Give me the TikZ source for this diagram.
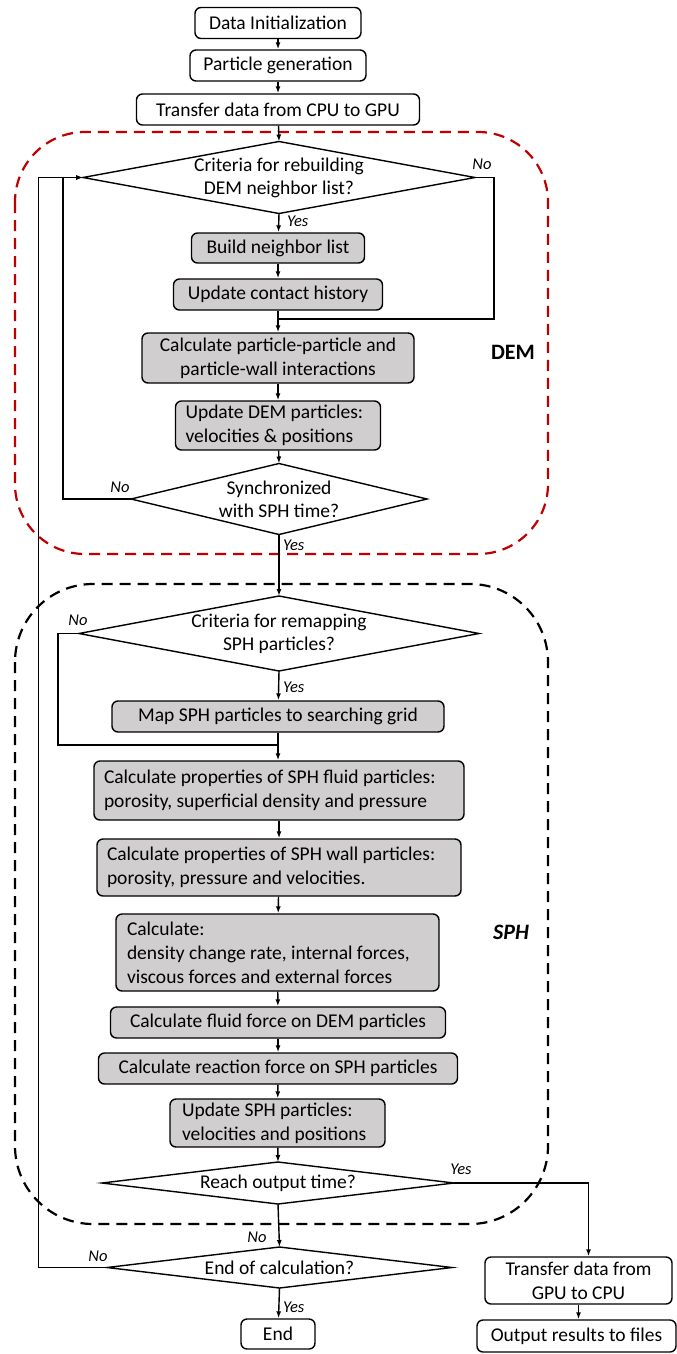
\documentclass[tikz,border=0pt]{standalone}
\usepackage{fontspec}
\setmainfont{Carlito}
\usetikzlibrary{arrows.meta,calc}
\definecolor{boxgray}{HTML}{D0CECE}
\definecolor{demred}{HTML}{C00000}
\newcommand\mkdia[6]{%
  \node[dtxt] (#1) at (#2,#3) {#6};
  \coordinate (#1-n) at ($(#1)+(0,-#5)$);
  \coordinate (#1-s) at ($(#1)+(0,#5)$);
  \coordinate (#1-w) at ($(#1)+(-#4,0)$);
  \coordinate (#1-e) at ($(#1)+(#4,0)$);
  \draw[ln] (#1-n) -- (#1-e) -- (#1-s) -- (#1-w) -- cycle;
}
\begin{document}
\begin{tikzpicture}[x=1pt,y=-1pt,
  ln/.style={line width=1.4pt, line join=miter},
  arr/.style={ln, -{Latex[length=7pt,width=5pt]}},
  box/.style={draw, line width=1.4pt, rounded corners=6pt, inner sep=0pt,
     font=\fontsize{19.5}{24}\selectfont, minimum height=31pt},
  gbox/.style={box, fill=boxgray},
  lbox/.style={gbox, align=flush left, inner xsep=10pt},
  dtxt/.style={inner sep=0pt, align=center, font=\fontsize{19.5}{23}\selectfont},
  lbl/.style={inner sep=0pt, font=\fontsize{16.5}{20}\selectfont\itshape},
  frame/.style={line width=2.2pt, dash pattern=on 11pt off 7pt},
]
\useasboundingbox (0,0) rectangle (677,1354);

% dashed frames
\draw[frame, demred, rounded corners=70pt] (15,132) rectangle (548,554);
\draw[frame, black, rounded corners=78pt] (15,584) rectangle (548,1224);
\node[font=\fontsize{22}{26}\selectfont\bfseries] (demlbl) at (513,352) {DEM};
\node[font=\fontsize{22}{26}\selectfont\bfseries\itshape] (sphlbl) at (511,932) {SPH};

% top boxes
\node[box, minimum width=166pt] (init) at (278,23) {Data Initialization};
\node[box, minimum width=176pt] (gen) at (278,65.5) {Particle generation};
\node[box, minimum width=283pt] (cpu) at (278,109.5) {Transfer data from CPU to GPU};

% DEM
\mkdia{d1}{279}{177.5}{196}{36}{Criteria for rebuilding\\DEM neighbor list?}
\node[gbox, minimum width=173pt, minimum height=30pt] (build) at (278,248) {Build neighbor list};
\node[gbox, minimum width=209pt] (contact) at (278,294.5) {Update contact history};
\node[gbox, minimum width=272pt, minimum height=50pt, align=center] (calcpp) at (278,358) {Calculate particle-particle and\\particle-wall interactions};
\node[lbox, text width=185pt, minimum height=49pt] (upddem) at (278,425.5) {Update DEM particles:\\velocities \& positions};
\mkdia{sync}{279}{499}{148}{35.5}{Synchronized\\with SPH time?}

% SPH
\mkdia{remap}{279}{633.5}{200}{37.5}{Criteria for remapping\\SPH particles?}
\node[gbox, minimum width=332pt] (map) at (278,716.5) {Map SPH particles to searching grid};
\node[lbox, text width=350pt, minimum height=59pt] (fluid) at (279,790.5) {Calculate properties of SPH fluid particles:\\porosity, superficial density and pressure};
\node[lbox, text width=344pt, minimum height=57pt] (wall) at (279,867.5) {Calculate properties of SPH wall particles:\\porosity, pressure and velocities.};
\node[lbox, text width=301pt, inner xsep=11pt, minimum height=77pt] (calc) at (277.5,952.5) {Calculate:\\density change rate, internal forces,\\viscous forces and external forces};
\node[gbox, minimum width=335pt] (ffd) at (278,1022.5) {Calculate fluid force on DEM particles};
\node[gbox, minimum width=359pt] (react) at (278,1068.5) {Calculate reaction force on SPH particles};
\node[lbox, text width=191pt, inner xsep=12pt, minimum height=48pt] (updsph) at (277.5,1123) {Update SPH particles:\\velocities and positions};
\mkdia{reach}{278}{1183}{176}{21}{Reach output time?}
\mkdia{endc}{279.5}{1267.5}{172.5}{20.5}{End of calculation?}
\node[box, minimum width=74pt, minimum height=30pt] (end) at (278,1334) {End};
\node[box, minimum width=187pt, minimum height=47pt, align=center] (gpucpu) at (578.5,1280.5) {Transfer data from\\GPU to CPU};
\node[box, minimum width=199pt, minimum height=32pt] (output) at (576.5,1336) {Output results to files};

% junction coordinates
\coordinate (j1) at (278,319);
\coordinate (j2) at (278,745);

% main flow
\draw[arr] (init) -- (gen);
\draw[arr] (gen) -- (cpu);
\draw[arr] (cpu) -- (d1-n);
\draw[arr] (d1-s) -- (build);
\draw[arr] (build) -- (contact);
\draw[arr] (contact) -- (contact |- calcpp.north);
\draw[arr] (calcpp) -- (upddem);
\draw[arr] (upddem) -- (sync-n);
\draw[arr] (sync-s) -- (remap-n);
\draw[arr] (remap-s) -- (map);
\draw[arr] (map) -- (map |- fluid.north);
\draw[arr] (fluid) -- (wall);
\draw[arr] (wall) -- (calc);
\draw[arr] (calc) -- (ffd);
\draw[arr] (ffd) -- (react);
\draw[arr] (react) -- (updsph);
\draw[arr] (updsph) -- (reach-n);
\draw[arr] (reach-s) -- (endc-n);
\draw[arr] (endc-s) -- (end);

% branches
\draw[ln] (d1-e) -- ++(19,0) |- (j1);
\draw[arr] (sync-w) -- ++(-68,0) |- (d1-w);
\draw[arr] (endc-w) -- ++(-68.5,0) |- (d1-w);
\draw[ln] (remap-w) -- ++(-21,0) |- (j2);
\draw[arr] (reach-e) -| ([xshift=10pt]gpucpu.north);
\draw[arr] (gpucpu.south) -- (gpucpu.south |- output.north);

% labels
\node[lbl] (l1) at (482,164) {No};
\node[lbl, anchor=west] (l2) at (287,221) {Yes};
\node[lbl] (l3) at (120,487) {No};
\node[lbl, anchor=west] (l4) at (283,545) {Yes};
\node[lbl] (l5) at (78,620) {No};
\node[lbl, anchor=west] (l6) at (283,687) {Yes};
\node[lbl] (l7) at (461,1169) {Yes};
\node[lbl] (l8) at (257,1237) {No};
\node[lbl] (l9) at (98,1256) {No};
\node[lbl, anchor=west] (l10) at (283,1307) {Yes};
\end{tikzpicture}
\end{document}
